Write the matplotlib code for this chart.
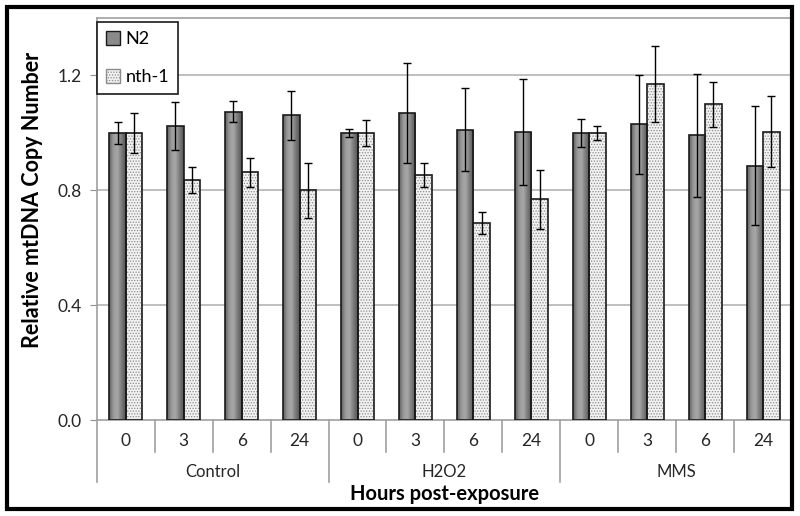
import numpy as np
import matplotlib.pyplot as plt
from matplotlib.patches import Rectangle, Patch
from matplotlib.colors import LinearSegmentedColormap

plt.rcParams['font.family'] = ['Lato', 'DejaVu Sans']
plt.rcParams['hatch.linewidth'] = 0.6

# Data
groups = ['Control', 'H2O2', 'MMS']
hours = ['0', '3', '6', '24']
n2 = [1.00, 1.024, 1.074, 1.061, 1.00, 1.069, 1.011, 1.004, 1.00, 1.03, 0.991, 0.886]
n2_err = [0.037, 0.083, 0.037, 0.085, 0.015, 0.173, 0.145, 0.184, 0.049, 0.172, 0.213, 0.206]
nth1 = [1.00, 0.837, 0.863, 0.80, 1.00, 0.854, 0.686, 0.769, 1.00, 1.169, 1.099, 1.004]
nth1_err = [0.07, 0.045, 0.05, 0.096, 0.044, 0.042, 0.038, 0.103, 0.025, 0.132, 0.08, 0.123]

n = len(n2)
x = np.arange(n)
w = 0.285

fig = plt.figure(figsize=(8, 5.16), dpi=100)
ax = fig.add_axes([0.121, 0.186, 0.869, 0.779])

# grid
for v in [0.4, 0.8, 1.2]:
    ax.axhline(v, color='#b4b4b4', lw=1.2, zorder=0)

# N2 bars: grey cylinder-like shading
cmap = LinearSegmentedColormap.from_list('cyl', ['#5e5e5e', '#9a9a9a', '#a8a8a8', '#7a7a7a', '#555555'])
grad = np.linspace(0, 1, 64).reshape(1, -1)
n2_bars = ax.bar(x - w / 2, n2, w, facecolor='none', edgecolor='#1a1a1a', lw=1.2, zorder=3)
for b in n2_bars:
    x0 = b.get_x()
    im = ax.imshow(grad, extent=[x0, x0 + b.get_width(), 0, b.get_height()],
                   aspect='auto', cmap=cmap, zorder=2, interpolation='bicubic')
    im.set_clip_path(b)

# nth-1 bars: light dotted fill
ax.bar(x + w / 2, nth1, w, color='#f2f2f2', edgecolor='#8c8c8c', hatch='......', lw=0, zorder=2)
ax.bar(x + w / 2, nth1, w, facecolor='none', edgecolor='#1a1a1a', lw=1.2, zorder=3)

ax.errorbar(x - w / 2, n2, yerr=n2_err, fmt='none', ecolor='black', elinewidth=1,
            capsize=3, capthick=1, zorder=4)
ax.errorbar(x + w / 2, nth1, yerr=nth1_err, fmt='none', ecolor='black', elinewidth=1,
            capsize=3, capthick=1, zorder=4)

ax.set_xlim(-0.5, n - 0.5)
ax.set_ylim(0, 1.4)
ax.set_yticks([0.0, 0.4, 0.8, 1.2])
ax.set_yticklabels(['0.0', '0.4', '0.8', '1.2'])
ax.tick_params(axis='y', direction='out', length=5, color='#909090', labelsize=12.5,
               labelcolor='#262626', pad=6)
ax.set_xticks([])
for s in ax.spines.values():
    s.set_color('#a0a0a0')
    s.set_linewidth(1.2)

ax.set_ylabel('Relative mtDNA Copy Number', fontsize=15.5, fontweight='bold')
ax.yaxis.set_label_coords(-0.078, 0.547)

# two-level category axis
trans = ax.get_xaxis_transform()
for k in range(n + 1):
    depth = -0.154 if k % 4 == 0 else -0.08
    ax.plot([k - 0.5, k - 0.5], [0, depth], transform=trans, color='#a0a0a0',
            lw=1.2, clip_on=False)
for i in range(n):
    ax.text(i, -0.052, hours[i % 4], transform=trans, ha='center', va='center',
            fontsize=12.5, color='#262626')
for g, name in enumerate(groups):
    ax.text(g * 4 + 1.5, -0.129, name, transform=trans, ha='center', va='center',
            fontsize=12, color='#262626')

fig.text(0.556, 0.043, 'Hours post-exposure', ha='center', va='center',
         fontsize=14.5, fontweight='bold')

handles = [Patch(facecolor='#8a8a8a', edgecolor='#1a1a1a'),
           Patch(facecolor='#f2f2f2', edgecolor='#8c8c8c', hatch='......')]
leg = ax.legend(handles, ['N2', 'nth-1'], loc='upper left', bbox_to_anchor=(0.121, 0.957),
                bbox_transform=fig.transFigure, borderaxespad=0, fancybox=False,
                edgecolor='#1a1a1a', framealpha=1, fontsize=13, handlelength=0.8,
                handleheight=0.8, handletextpad=0.3, labelspacing=1.2,
                borderpad=0.5)
leg.get_frame().set_linewidth(1.2)
leg.set_zorder(10)

fig.patches.append(Rectangle((0.00875, 0.0136), 0.981, 0.973, transform=fig.transFigure,
                             fill=False, edgecolor='black', lw=3))

fig.savefig('out.png', dpi=100)
